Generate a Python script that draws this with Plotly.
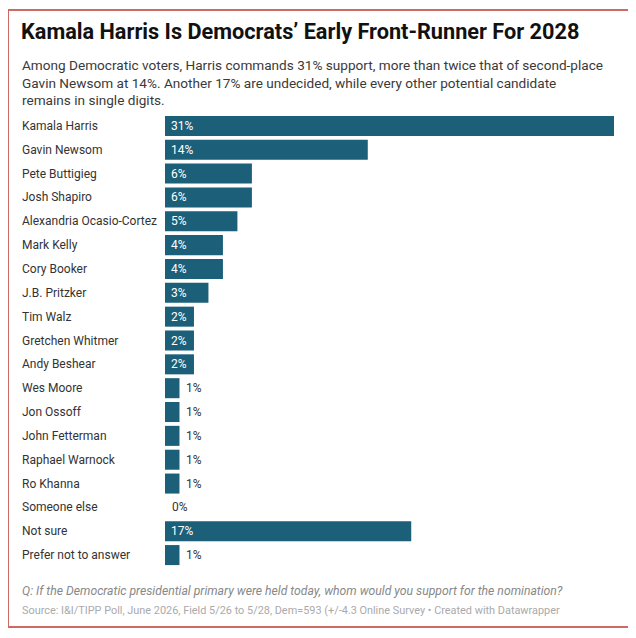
import plotly.graph_objects as go

# data
candidatos = ['Kamala Harris', 'Gavin Newsom', 'Pete Buttigieg', 'Josh Shapiro',
              'Alexandria Ocasio-Cortez', 'Mark Kelly', 'Cory Booker', 'J.B. Pritzker',
              'Tim Walz', 'Gretchen Whitmer', 'Andy Beshear', 'Wes Moore', 'Jon Ossoff',
              'John Fetterman', 'Raphael Warnock', 'Ro Khanna', 'Someone else',
              'Not sure', 'Prefer not to answer']
apoio = [31, 14, 6, 6, 5, 4, 4, 3, 2, 2, 2, 1, 1, 1, 1, 1, 0, 17, 1]

titulo = 'Kamala Harris Is Democrats’ Early Front-Runner For 2028'
subtitulo = ('Among Democratic voters, Harris commands 31% support, more than twice that of second-place<br>'
             'Gavin Newsom at 14%. Another 17% are undecided, while every other potential candidate<br>'
             'remains in single digits.')
pergunta = 'Q: If the Democratic presidential primary were held today, whom would you support for the nomination?'
fonte = 'Source: I&I/TIPP Poll, June 2026, Field 5/26 to 5/28, Dem=593 (+/-4.3 Online Survey • Created with Datawrapper'

# the page body has an 8px margin, so the figure is drawn 8px in from the window corner
OFF = 8
W, H = 636 - 2 * OFF, 638 - 2 * OFF
ML, MR, MT, MB = 165 - OFF, 22 - OFF, 114 - OFF, 71 - OFF
PW = W - ML - MR
PH = H - MT - MB


def px_x(p):
    # window pixel -> paper x
    return (p - OFF - ML) / PW


def px_y(p):
    # window pixel -> paper y
    return (H + OFF - MB - p) / PH


COR = '#1b5f79'
FONTE = 'Roboto'

fig = go.Figure(go.Bar(
    x=apoio, y=candidatos, orientation='h',
    marker=dict(color=COR, line=dict(width=0)),
    hoverinfo='skip'
))

anots = []
for nome, v in zip(candidatos, apoio):
    # row label on the left
    anots.append(dict(x=px_x(20), xref='paper', y=nome, yref='y', text=nome,
                      showarrow=False, xanchor='left', yanchor='middle',
                      font=dict(family=FONTE, size=12, color='#333333')))
    if v >= 2:
        anots.append(dict(x=0, y=nome, text=f'{v}%', showarrow=False,
                          xanchor='left', yanchor='middle', xshift=4,
                          font=dict(family=FONTE, size=12, color='white')))
    else:
        anots.append(dict(x=v, y=nome, text=f'{v}%', showarrow=False,
                          xanchor='left', yanchor='middle', xshift=5,
                          font=dict(family=FONTE, size=12, color='#333333')))

anots.append(dict(x=px_x(19), y=px_y(32), xref='paper', yref='paper', text=f'<b>{titulo}</b>',
                  showarrow=False, xanchor='left', yanchor='middle',
                  font=dict(family=FONTE, size=21.7, color='#111111')))
anots.append(dict(x=px_x(20), y=px_y(55), xref='paper', yref='paper', text=subtitulo,
                  showarrow=False, xanchor='left', yanchor='top', align='left',
                  font=dict(family=FONTE, size=13.6, color='#3a3a3a')))
anots.append(dict(x=px_x(20), y=px_y(591), xref='paper', yref='paper', text=f'<i>{pergunta}</i>',
                  showarrow=False, xanchor='left', yanchor='middle',
                  font=dict(family=FONTE, size=12.2, color='#888888')))
anots.append(dict(x=px_x(20), y=px_y(610), xref='paper', yref='paper', text=fonte,
                  showarrow=False, xanchor='left', yanchor='middle',
                  font=dict(family=FONTE, size=10.9, color='#aaaaaa')))

fig.update_layout(
    width=W, height=H,
    margin=dict(l=ML, r=MR, t=MT, b=MB, pad=0),
    paper_bgcolor='white', plot_bgcolor='white',
    showlegend=False,
    bargap=0.16,
    annotations=anots,
    shapes=[dict(type='rect', xref='paper', yref='paper',
                 x0=px_x(8), x1=px_x(629), y0=px_y(627), y1=px_y(10),
                 line=dict(color='#cd6a61', width=2), layer='below')],
)
fig.update_xaxes(range=[0, 31], visible=False, fixedrange=True)
fig.update_yaxes(autorange='reversed', showticklabels=False, showgrid=False,
                 zeroline=False, fixedrange=True)

fig.write_html('out.html')
